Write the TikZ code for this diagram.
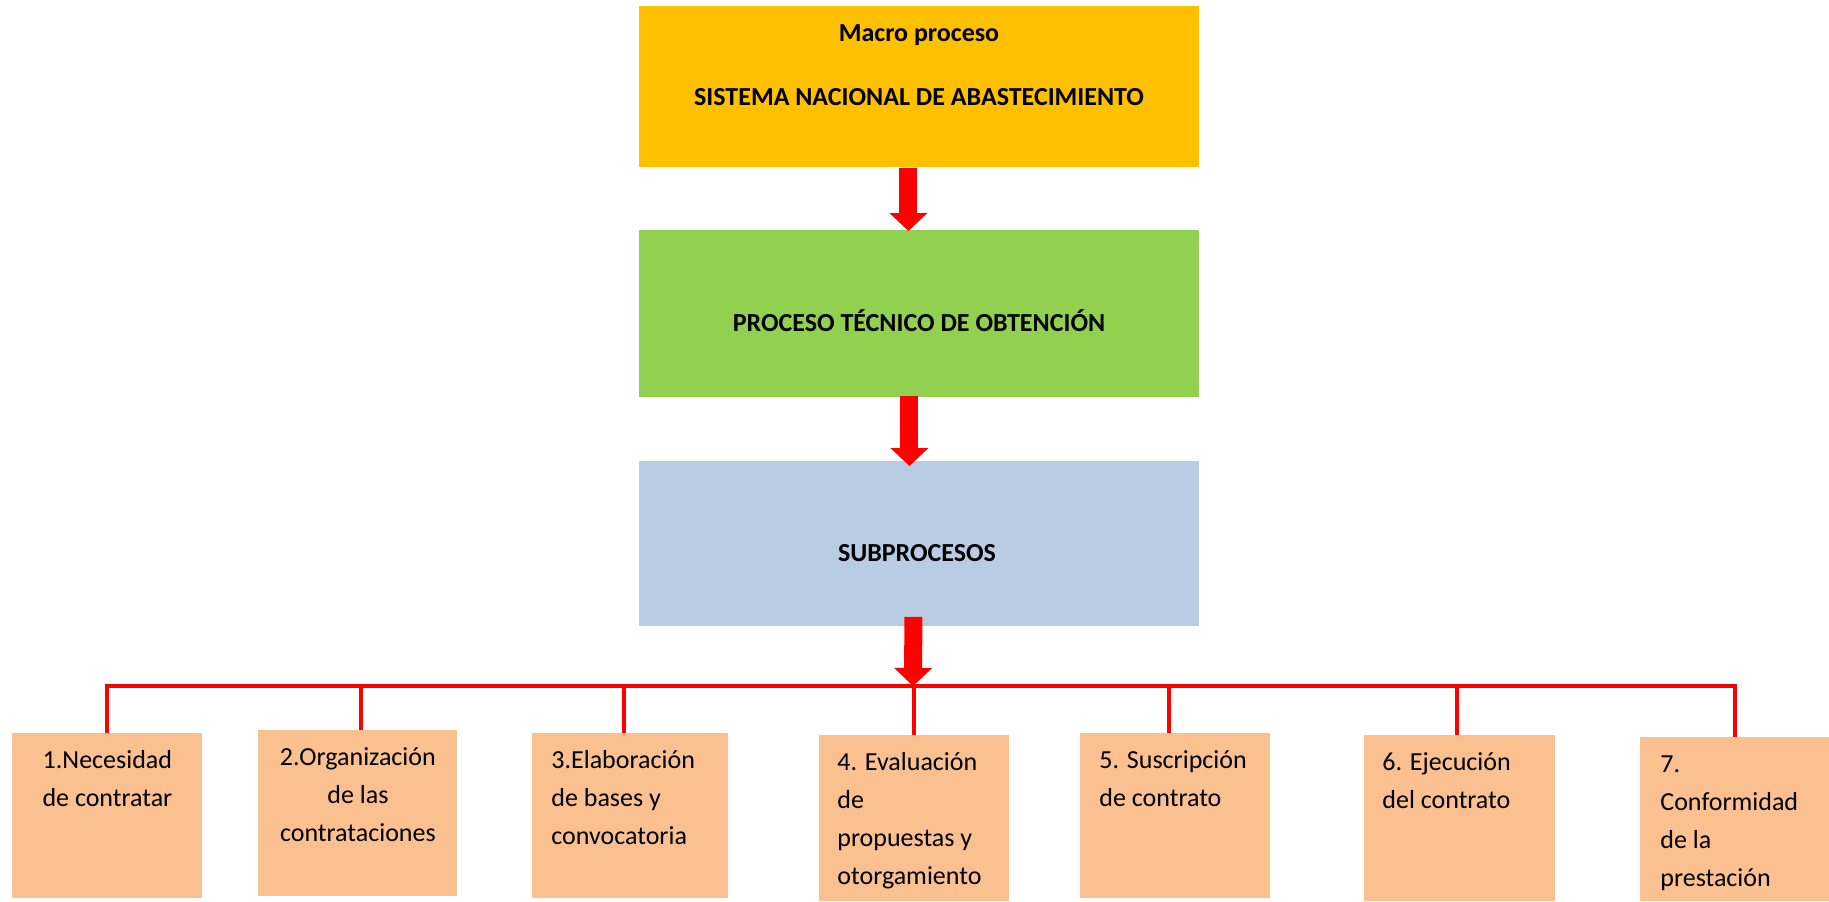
\documentclass[tikz,border=0pt]{standalone}
\usepackage{fontspec}
\setmainfont{Carlito}
\usetikzlibrary{arrows.meta}
\definecolor{macrocolor}{HTML}{FFC000}
\definecolor{tecnicocolor}{HTML}{92D050}
\definecolor{subcolor}{HTML}{B8CCE4}
\definecolor{pasocolor}{HTML}{FAC090}
\begin{document}
\begin{tikzpicture}[x=0.5pt,y=-0.5pt,>={Triangle[width=18.5pt,length=9pt]},
    caja/.style={inner sep=0pt,anchor=north west},
    grande/.style={caja,minimum width=280pt},
    paso/.style={caja,fill=pasocolor,minimum width=95pt,minimum height=82.5pt},
    titulo/.style={font=\bfseries\fontsize{13}{16}\selectfont,inner sep=0pt,anchor=base},
    pasotxt/.style={font=\fontsize{13}{19}\selectfont,inner sep=0pt,text width=77pt,align=flush left,anchor=base west},
    flecha/.style={red,line width=9pt,->},
    rama/.style={red,line width=2pt}]
  \useasboundingbox (0,0) rectangle (1829,901);

  % cajas principales
  \node[grande,fill=macrocolor,minimum height=80.5pt] (macro) at (639,6) {};
  \node[grande,fill=tecnicocolor,minimum height=83.5pt] (tecnico) at (639,230) {};
  \node[grande,fill=subcolor,minimum height=82.5pt] (sub) at (639,461) {};
  \node[titulo] (macrotxt) at (919,41) {Macro proceso};
  \node[titulo] (sistema) at (919,105) {SISTEMA NACIONAL DE ABASTECIMIENTO};
  \node[titulo] (tecnicotxt) at (919,331) {PROCESO TÉCNICO DE OBTENCIÓN};
  \node[titulo] (subtxt) at (917,561) {SUBPROCESOS};

  % flechas
  \coordinate (bus) at (913,686);
  \draw[flecha] ([xshift=-5.5pt]macro.south) -- ([xshift=-5.5pt,yshift=-0.5pt]tecnico.north);
  \draw[flecha] ([xshift=-5pt,yshift=1pt]tecnico.south) -- ([xshift=-5pt,yshift=-2.5pt]sub.north);
  \draw[flecha] ([xshift=-3pt,yshift=5pt]sub.south) -- (bus);

  % subprocesos
  \node[paso] (p1) at (12,733) {};
  \node[paso,minimum width=99.5pt,minimum height=83pt] (p2) at (258,730) {};
  \node[paso,minimum width=98pt] (p3) at (532,733) {};
  \node[paso,minimum height=83pt] (p4) at (819,735) {};
  \node[paso] (p5) at (1080,733) {};
  \node[paso,minimum width=95.5pt,minimum height=83pt] (p6) at (1364,735) {};
  \node[paso,minimum width=94.5pt,minimum height=82pt] (p7) at (1640,737) {};

  \node[pasotxt,text width=95pt,align=flush center,anchor=base] (t1) at ([yshift=-17.5pt]p1.north) {1.Necesidad\\de contratar};
  \node[pasotxt,text width=99.5pt,align=flush center,anchor=base] (t2) at ([yshift=-17.5pt]p2.north) {2.Organización\\de las\\contrataciones};
  \node[pasotxt] (t3) at ([xshift=9.5pt,yshift=-17.5pt]p3.north west) {3.Elaboración\\de bases y\\convocatoria};
  \node[pasotxt] (t4) at ([xshift=9pt,yshift=-17.5pt]p4.north west) {4. Evaluación\\de\\propuestas y\\otorgamiento};
  \node[pasotxt] (t5) at ([xshift=9.5pt,yshift=-17.5pt]p5.north west) {5. Suscripción\\de contrato};
  \node[pasotxt] (t6) at ([xshift=9pt,yshift=-17.5pt]p6.north west) {6. Ejecución\\del contrato};
  \node[pasotxt] (t7) at ([xshift=10pt,yshift=-17.5pt]p7.north west) {7.\\Conformidad\\de la\\prestación};

  % ramas
  \draw[rama] (p1.north) -- (p1.north |- bus) -- (p7.north |- bus) -- (p7.north);
  \draw[rama] ([xshift=1.5pt]p2.north) -- ([xshift=1.5pt]p2.north |- bus);
  \draw[rama] ([xshift=-3pt]p3.north) -- ([xshift=-3pt]p3.north |- bus);
  \draw[rama] (p4.north) -- (p4.north |- bus);
  \draw[rama] ([xshift=-3pt]p5.north) -- ([xshift=-3pt]p5.north |- bus);
  \draw[rama] ([xshift=-1.5pt]p6.north) -- ([xshift=-1.5pt]p6.north |- bus);
\end{tikzpicture}
\end{document}
